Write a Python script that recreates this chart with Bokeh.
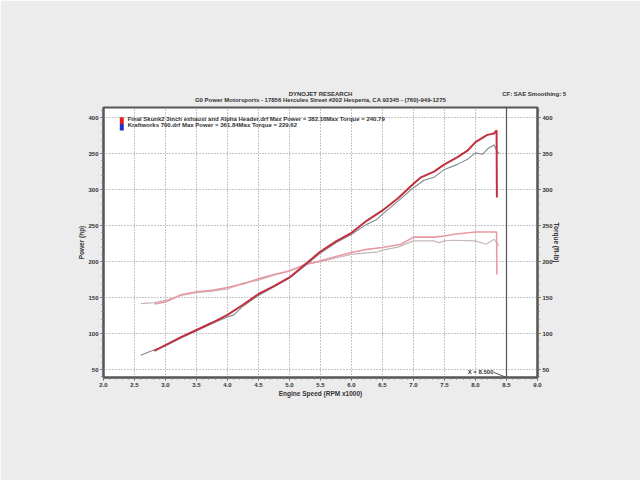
from bokeh.plotting import figure
from bokeh.models import (LinearAxis, SingleIntervalTicker, NumeralTickFormatter, FixedTicker,
                          Label, Span, BoxAnnotation, Range1d)
from bokeh.embed import file_html
from bokeh.resources import INLINE

# ---- data (RPM x1000) ----
rpm_red = [2.82, 3.0, 3.25, 3.5, 3.75, 4.0, 4.25, 4.5, 4.75, 5.0, 5.25, 5.5, 5.75, 6.0,
           6.25, 6.5, 6.75, 7.0, 7.12, 7.33, 7.5, 7.71, 7.87, 8.0, 8.19, 8.3, 8.34, 8.345]
power_red = [76, 84, 95, 105, 115, 126, 140, 155, 166, 178, 196, 214, 228, 240,
             257, 271, 288, 308, 317, 325, 335, 345, 354, 366, 376, 378, 382.2, 289]
rpm_red_tq = [2.82, 3.0, 3.25, 3.5, 3.75, 4.0, 4.25, 4.5, 4.75, 5.0, 5.25, 5.5, 5.75, 6.0,
              6.25, 6.5, 6.8, 7.0, 7.33, 7.5, 7.66, 8.0, 8.34, 8.345]
torque_red = [141, 144, 154, 158, 160, 164, 169, 176, 182, 187, 196, 201, 207, 212.5,
              217, 219.5, 224, 234, 234, 235.6, 238, 241, 241, 182]

rpm_gray = [2.6, 2.75, 3.0, 3.25, 3.5, 3.75, 4.0, 4.1, 4.25, 4.5, 4.75, 5.0, 5.25, 5.5,
            5.75, 6.0, 6.25, 6.4, 6.5, 6.75, 7.0, 7.17, 7.33, 7.5, 7.71, 7.87, 8.0, 8.11,
            8.2, 8.3, 8.35, 8.38]
power_gray = [70, 75, 83, 94, 104, 114, 123, 126, 138, 153, 165, 177, 194, 212,
              226, 238, 252, 258, 266, 284, 302.6, 313, 317, 328, 335, 342, 351, 349,
              357, 362, 353, 350]
rpm_gray_tq = [2.6, 2.82, 3.0, 3.25, 3.5, 3.75, 4.0, 4.25, 4.5, 4.75, 5.0, 5.25, 5.5, 5.75,
               6.0, 6.25, 6.4, 6.5, 6.75, 7.0, 7.33, 7.41, 7.5, 7.66, 8.0, 8.17, 8.3, 8.38]
torque_gray = [141.7, 143, 146, 153, 157, 159, 162, 170, 174, 181, 187, 196, 200, 205,
               210, 212, 213, 216, 220, 228.7, 228.7, 226.4, 228.7, 229.6, 228.7, 224, 231, 222]

cursor_x = 8.5
legend_lines = ["Final Skunk2 3inch exhaust and Alpha Header.drf Max Power = 382.16Max Torque = 240.79",
                "Kraftworks 700.drf Max Power = 361.84Max Torque = 229.62"]
title_text = "DYNOJET RESEARCH"
subtitle_text = "G0 Power Motorsports - 17856 Hercules Street #202 Hesperia, CA 92345 - (760)-949-1275"
cf_text = "CF: SAE  Smoothing: 5"

FONT = "Liberation Sans"
TXT = "#333333"

p = figure(width=640, height=480, x_range=Range1d(2.0, 9.0), y_range=Range1d(39, 414),
           output_backend="svg", toolbar_location=None,
           min_border_left=103, min_border_right=103, min_border_top=107, min_border_bottom=103)
p.border_fill_color = "#ececec"
p.background_fill_color = "white"
p.outline_line_color = "#555555"
p.outline_line_width = 2

# axes
p.xaxis.ticker = SingleIntervalTicker(interval=0.5, num_minor_ticks=5)
p.xaxis.formatter = NumeralTickFormatter(format="0.0")
p.yaxis.ticker = SingleIntervalTicker(interval=50, num_minor_ticks=5)
p.xaxis.axis_label = "Engine Speed (RPM x1000)"
p.yaxis.axis_label = "Power (hp)"

right = LinearAxis(ticker=SingleIntervalTicker(interval=50, num_minor_ticks=5),
                   axis_label="Torque (ft-lb)")
p.add_layout(right, "right")

for ax, lso in [(p.xaxis[0], 0), (p.yaxis[0], 0), (right, -3)]:
    ax.major_label_text_font = FONT
    ax.major_label_text_font_size = "6px"
    ax.major_label_text_font_style = "bold"
    ax.major_label_text_color = TXT
    ax.axis_label_text_font = FONT
    ax.axis_label_text_font_size = "6.5px"
    ax.axis_label_text_font_style = "bold"
    ax.axis_label_text_color = TXT
    ax.axis_line_color = "#555555"
    ax.axis_line_width = 2
    ax.major_tick_line_color = "#555555"
    ax.minor_tick_line_color = "#777777"
    ax.major_tick_out = 3
    ax.major_tick_in = 0
    ax.minor_tick_out = 2
    ax.minor_tick_in = 0
    ax.major_label_standoff = 2
    ax.axis_label_standoff = lso

# header lines drawn as label-only axes above the frame
sub_ax = LinearAxis(ticker=FixedTicker(ticks=[5.5], minor_ticks=[]),
                    major_label_overrides={5.5: subtitle_text})
head_ax = LinearAxis(ticker=FixedTicker(ticks=[5.5, 8.96], minor_ticks=[]),
                     major_label_overrides={5.5: title_text, 8.96: cf_text})
for ax, so in [(sub_ax, 5), (head_ax, -3)]:
    ax.axis_line_color = None
    ax.major_tick_line_color = None
    ax.minor_tick_line_color = None
    ax.major_tick_out = 0
    ax.major_tick_in = 0
    ax.major_label_standoff = so
    ax.major_label_text_font = FONT
    ax.major_label_text_font_size = "6px"
    ax.major_label_text_font_style = "bold"
    ax.major_label_text_color = TXT
    p.add_layout(ax, "above")

for g in [p.xgrid[0], p.ygrid[0]]:
    g.grid_line_color = "#8a8a8a"
    g.grid_line_dash = "1 2"
    g.grid_line_width = 1

# curves
p.line(rpm_gray_tq, torque_gray, line_color="#c4b8bd", line_width=1.2)
p.line(rpm_red_tq, torque_red, line_color="#e79aa3", line_width=1.6)
p.line(rpm_gray, power_gray, line_color="#7f898e", line_width=1.1)
p.line(rpm_red, power_red, line_color="#c0303e", line_width=2)

# cursor
p.add_layout(Span(location=cursor_x, dimension="height", line_color="#555555", line_width=1.2))
p.line([8.3, cursor_x], [46, 39], line_color="#555555", line_width=1)
p.add_layout(Label(x=8.29, y=46, text="X = 8.500", text_align="right", text_baseline="middle",
                   text_font=FONT, text_font_size="6px", text_font_style="bold",
                   text_color=TXT))

# legend swatch + texts
p.add_layout(BoxAnnotation(left=2.263, right=2.327, bottom=391.2, top=400.4,
                           fill_color="#e02020", fill_alpha=1, line_color=None))
p.add_layout(BoxAnnotation(left=2.263, right=2.327, bottom=382, top=391.2,
                           fill_color="#2030d0", fill_alpha=1, line_color=None))
for i, t in enumerate(legend_lines):
    p.add_layout(Label(x=2.39, y=398.5 - 8.5 * i, text=t, text_align="left", text_baseline="middle",
                       text_font=FONT, text_font_size="6px", text_font_style="bold",
                       text_color=TXT))

open("out.html", "w").write(file_html(p, INLINE))
